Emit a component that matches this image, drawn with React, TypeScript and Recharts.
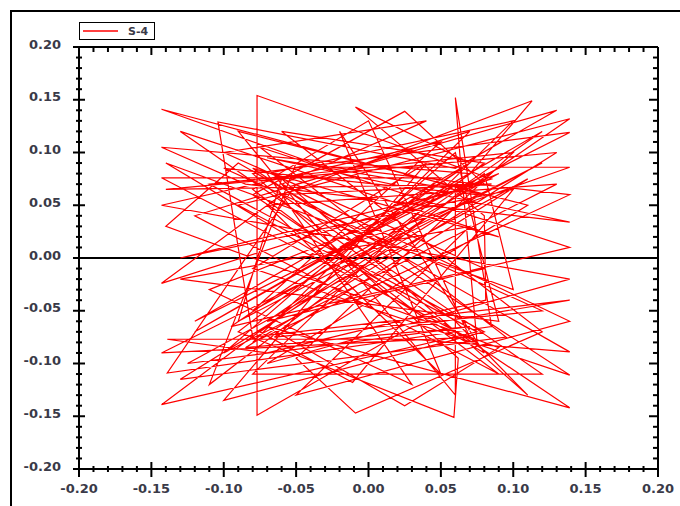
import { LineChart, Line, XAxis, YAxis, ReferenceLine, Legend } from 'recharts'

// axis labels
const majorTicks = [-0.2, -0.15, -0.1, -0.05, 0, 0.05, 0.1, 0.15, 0.2]
const seriesName = 'S-4'

// trajectory samples, in order
const xs = [
  -0.020, 0.139, -0.030, -0.143, 0.080, -0.070, 0.139, -0.085, -0.143, 0.070,
  0.113, -0.060, -0.143, 0.085, -0.077, -0.077, 0.030, 0.139, -0.080, -0.104,
  0.060, 0.130, -0.050, -0.139, 0.085, 0.060, 0.063, 0.075, -0.143, 0.050,
  -0.090, 0.059, 0.062, -0.080, 0.139, -0.120, 0.070, -0.009, 0.080, 0.081,
  -0.070, -0.139, 0.030, 0.139, -0.090, -0.140, 0.090, 0.025, -0.070, 0.139,
  -0.080, 0.025, 0.080, -0.130, 0.100, -0.011, -0.075, 0.139, -0.090, 0.075,
  -0.143, 0.080, -0.060, 0.120, -0.009, -0.050, 0.100, -0.110, 0.080, -0.100,
  0.040, -0.080, 0.139, -0.080, 0.090, -0.130, 0.060, 0.110, -0.060, -0.090,
  0.120, -0.143, 0.070, 0.000, -0.080, 0.090, -0.120, 0.070, -0.080, 0.139,
  -0.050, -0.110, 0.080, 0.100, -0.140, 0.080, -0.020, 0.050, -0.070, 0.130,
  -0.100, 0.060, 0.090, -0.130, 0.070, -0.050, 0.139, -0.060, 0.040, -0.100,
  0.080, -0.070, 0.120, -0.120, 0.060, 0.060, -0.090, 0.110, -0.070, 0.139,
  -0.143, 0.050, -0.080, 0.090, -0.110, 0.030, -0.070, 0.100, -0.080, 0.120,
  -0.060, 0.085, -0.140, 0.130, -0.085, 0.070, -0.125, 0.110, -0.065, 0.120,
  -0.100, 0.075, -0.130, 0.095, -0.075, 0.139, -0.095, 0.065, -0.020,
]
const ys = [
  0.010, 0.086, 0.086, 0.141, 0.060, 0.095, 0.034, 0.070, 0.105, 0.080,
  0.149, 0.060, -0.024, 0.075, 0.154, -0.149, -0.065, -0.040, -0.075, 0.129,
  0.085, 0.140, 0.070, -0.109, -0.065, 0.152, 0.100, -0.080, 0.076, 0.076,
  -0.070, -0.151, -0.095, 0.080, 0.119, -0.060, 0.090, 0.143, 0.040, -0.040,
  -0.090, -0.077, -0.077, -0.089, 0.090, 0.030, -0.085, -0.140, -0.065, -0.142,
  0.060, 0.139, 0.070, 0.000, 0.065, -0.118, -0.070, 0.132, 0.050, -0.070,
  -0.139, 0.090, 0.120, -0.070, -0.147, -0.095, 0.100, 0.070, -0.070, -0.135,
  0.090, -0.010, -0.111, 0.085, 0.020, 0.120, -0.060, -0.130, 0.075, -0.060,
  0.090, -0.090, -0.075, 0.130, 0.065, -0.110, 0.040, 0.120, -0.080, 0.060,
  0.090, -0.120, 0.080, -0.030, 0.090, -0.090, 0.120, -0.110, 0.050, 0.070,
  -0.090, 0.100, -0.060, -0.020, 0.030, -0.130, -0.060, 0.070, 0.130, 0.100,
  -0.010, -0.060, 0.120, -0.070, 0.070, -0.130, 0.120, 0.050, -0.100, -0.020,
  0.050, 0.110, -0.050, 0.080, -0.030, -0.120, 0.080, 0.130, -0.110, -0.110,
  0.060, 0.070, 0.065, 0.100, -0.085, -0.065, -0.100, 0.075, -0.075, -0.050,
  0.085, 0.060, -0.115, -0.075, 0.105, 0.010, -0.065, 0.085, 0.010,
]

const points = xs.map((x, i) => ({ x, y: ys[i] }))

// every 0.01 step gets a tick, majors every 0.05
const allTicks: number[] = []
for (let i = 0; i < majorTicks.length - 1; i++) {
  for (let k = 0; k < 5; k++) allTicks.push(Number((majorTicks[i] + k * 0.01).toFixed(2)))
}
allTicks.push(majorTicks[majorTicks.length - 1])

const isMajor = (v: number) => Math.round(Math.abs(v) * 100) % 5 === 0

const labelStyle = {
  fontFamily: '"DejaVu Sans", sans-serif',
  fontSize: 13,
  fontWeight: 'bold' as const,
  fill: '#3a3a48',
}

const BottomTick = (props: any) => {
  const { x, y, payload } = props
  const major = isMajor(payload.value)
  return (
    <g>
      <line x1={x} x2={x} y1={major ? y - 7 : y - 3} y2={major ? y + 8 : y + 3} stroke="#000" strokeWidth={2} />
      {major && (
        <text x={x} y={y + 20} textAnchor="middle" dominantBaseline="middle" {...labelStyle}>
          {payload.value.toFixed(2)}
        </text>
      )}
    </g>
  )
}

const LeftTick = (props: any) => {
  const { x, y, payload } = props
  const major = isMajor(payload.value)
  return (
    <g>
      <line x1={major ? x - 6 : x - 3} x2={major ? x + 6 : x + 3} y1={y} y2={y} stroke="#000" strokeWidth={2} />
      {major && (
        <text x={x - 18} y={y - 2} textAnchor="end" dominantBaseline="middle" {...labelStyle}>
          {payload.value.toFixed(2)}
        </text>
      )}
    </g>
  )
}

const TopTick = (props: any) => {
  const { x, y, payload } = props
  const major = isMajor(payload.value)
  return <line x1={x} x2={x} y1={y} y2={y + (major ? 8 : 5)} stroke="#000" strokeWidth={2} />
}

const RightTick = (props: any) => {
  const { x, y, payload } = props
  const major = isMajor(payload.value)
  return <line x1={x} x2={x - (major ? 9 : 5)} y1={y} y2={y} stroke="#000" strokeWidth={2} />
}

const LegendBox = () => (
  <div
    style={{
      width: 76,
      height: 18,
      boxSizing: 'border-box',
      border: '1.5px solid #000',
      background: '#fff',
      position: 'relative',
    }}
  >
    <svg width={76} height={18} style={{ position: 'absolute', left: -1.5, top: -1.5 }}>
      <line x1={4} x2={39} y1={9} y2={9} stroke="#ff0000" strokeWidth={1.5} />
      <text x={49} y={9.5} dominantBaseline="middle" fontFamily='"DejaVu Sans", sans-serif' fontSize={11} fontWeight="bold" fill="#3a3a48">
        {seriesName}
      </text>
    </svg>
  </div>
)

export default function App() {
  return (
    <div style={{ position: 'absolute', left: 0, top: 0, width: 680, height: 506, overflow: 'hidden', background: '#fff' }}>
      <div
        style={{
          position: 'absolute',
          left: 10,
          top: 10,
          width: 700,
          height: 520,
          border: '2px solid #000',
        }}
      />
      <div style={{ position: 'absolute', left: 0, top: 0 }}>
        <LineChart width={680} height={506} data={points} margin={{ top: 37, right: 12, bottom: 0, left: 0 }}>
          <XAxis
            xAxisId="bottom"
            type="number"
            dataKey="x"
            domain={[-0.2, 0.2]}
            ticks={allTicks}
            interval={0}
            height={37}
            tickSize={0}
            tickMargin={0}
            tickLine={false}
            axisLine={{ stroke: '#000', strokeWidth: 2 }}
            tick={BottomTick}
            allowDataOverflow
          />
          <XAxis
            xAxisId="top"
            orientation="top"
            type="number"
            dataKey="x"
            domain={[-0.2, 0.2]}
            ticks={allTicks}
            interval={0}
            height={10}
            tickSize={0}
            tickMargin={0}
            tickLine={false}
            axisLine={{ stroke: '#000', strokeWidth: 2 }}
            tick={TopTick}
            allowDataOverflow
          />
          <YAxis
            yAxisId="left"
            type="number"
            dataKey="y"
            domain={[-0.2, 0.2]}
            ticks={allTicks}
            interval={0}
            width={79}
            tickSize={0}
            tickMargin={0}
            tickLine={false}
            axisLine={{ stroke: '#000', strokeWidth: 2 }}
            tick={LeftTick}
            allowDataOverflow
          />
          <YAxis
            yAxisId="right"
            orientation="right"
            type="number"
            dataKey="y"
            domain={[-0.2, 0.2]}
            ticks={allTicks}
            interval={0}
            width={10}
            tickSize={0}
            tickMargin={0}
            tickLine={false}
            axisLine={{ stroke: '#000', strokeWidth: 2 }}
            tick={RightTick}
            allowDataOverflow
          />
          <ReferenceLine xAxisId="bottom" yAxisId="left" y={0} stroke="#000" strokeWidth={2} />
          <Line
            xAxisId="bottom"
            yAxisId="left"
            type="linear"
            dataKey="y"
            name={seriesName}
            stroke="#ff0000"
            strokeWidth={1.2}
            dot={false}
            isAnimationActive={false}
          />
          <Legend
            layout="horizontal"
            align="center"
            verticalAlign="middle"
            wrapperStyle={{ left: 79, top: 22, width: 76, height: 18 }}
            content={LegendBox}
          />
        </LineChart>
      </div>
    </div>
  )
}
